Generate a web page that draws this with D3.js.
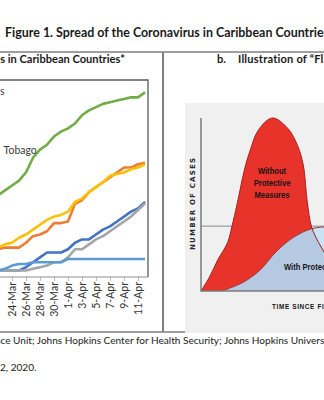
<!DOCTYPE html>
<html>
<head>
<meta charset="utf-8">
<script src="https://cdn.jsdelivr.net/npm/d3@7"></script>
<style>
  body { margin: 0; background: #fff; }
  svg { display: block; }
</style>
</head>
<body>
<div id="figure"></div>
<script>
var svgWidth = 324;
var svgHeight = 400;

// panel a: confirmed cases, 22-Mar .. 12-Apr
var dates = ["2020-03-22", "2020-03-23", "2020-03-24", "2020-03-25", "2020-03-26", "2020-03-27",
  "2020-03-28", "2020-03-29", "2020-03-30", "2020-03-31", "2020-04-01", "2020-04-02",
  "2020-04-03", "2020-04-04", "2020-04-05", "2020-04-06", "2020-04-07", "2020-04-08",
  "2020-04-09", "2020-04-10", "2020-04-11", "2020-04-12"];
var tickDates = ["2020-03-24", "2020-03-26", "2020-03-28", "2020-03-30", "2020-04-01",
  "2020-04-03", "2020-04-05", "2020-04-07", "2020-04-09", "2020-04-11"];
var countries = ["The Bahamas", "Barbados", "Guyana", "Jamaica", "Suriname", "Trinidad and Tobago"];
var colors = ["#4472C4", "#ED7D31", "#A5A5A5", "#FFC000", "#5B9BD5", "#70AD47"];
var bahamas = [4, 4, 4, 4, 6, 9, 12, 15, 15, 15, 17, 21, 23, 23, 26, 29, 31, 34, 37, 40, 42, 46];
var barbados = [17, 18, 18, 18, 21, 25, 26, 28, 33, 33, 34, 45, 47, 52, 55, 58, 61, 64, 67, 67, 69, 70];
var guyana = [4, 4, 4, 4, 4, 5, 6, 7, 9, 9, 12, 17, 17, 20, 23, 25, 28, 31, 34, 37, 41, 45];
var jamaica = [18, 20, 21, 24, 26, 29, 32, 35, 37, 38, 40, 46, 48, 52, 55, 58, 62, 63, 64, 66, 67, 69];
var suriname = [4, 5, 7, 8, 8, 9, 9, 9, 9, 9, 11, 11, 11, 11, 11, 11, 11, 11, 11, 11, 11, 11];
var trinidad = [50, 53, 56, 59, 64, 73, 78, 81, 86, 89, 91, 94, 99, 102, 104, 106, 107, 108, 109, 110, 110, 113];

// panel b: illustration curves, [time, cases] in 0-100 units
var withoutMeasures = [[0, 0], [6, 8], [12, 18], [19, 28], [22, 37], [26, 51], [31, 70], [35, 81],
  [41, 93], [51, 100], [62, 94], [69, 84], [73, 73], [76, 51], [79, 37], [84, 28], [91, 18], [96, 8], [102, 0]];
var withMeasures = [[15, 0], [30, 5], [42, 12], [54, 23], [66, 31], [79, 36], [92, 37], [106, 35],
  [121, 28], [140, 14], [160, 0]];
var capacity = 37.5;

var font = "Lato, 'Open Sans', sans-serif";
var narrow = "'Liberation Sans', Arial, sans-serif";

var svg = d3.select("#figure")
  .append("svg")
  .attr("width", svgWidth)
  .attr("height", svgHeight);

// measure a string so partially cropped texts land where they should
function textWidth(str, size, weight, family) {
  var t = svg.append("text")
    .attr("font-family", family || font)
    .attr("font-size", size)
    .attr("font-weight", weight || "normal")
    .text(str);
  var w = t.node().getComputedTextLength();
  t.remove();
  return w;
}

// condensed bold label (Arial Narrow look)
function narrowText(parent, x, y, str, size, anchor, spacing) {
  parent.append("g")
    .attr("transform", "translate(" + x + "," + y + ") scale(0.8,1)")
    .append("text")
    .attr("text-anchor", anchor || "start")
    .attr("font-family", narrow)
    .attr("font-weight", "bold")
    .attr("font-size", size)
    .attr("letter-spacing", spacing || 0)
    .attr("fill", "#151515")
    .text(str);
}

// ---------- frame rules ----------
svg.append("line").attr("x1", 0).attr("x2", svgWidth).attr("y1", 52).attr("y2", 52)
  .attr("stroke", "#7f7f7f").attr("stroke-width", 1.5);
svg.append("line").attr("x1", 0).attr("x2", svgWidth).attr("y1", 332).attr("y2", 332)
  .attr("stroke", "#7f7f7f").attr("stroke-width", 1.5);
svg.append("line").attr("x1", 163).attr("x2", 163).attr("y1", 52).attr("y2", 332)
  .attr("stroke", "#7f7f7f").attr("stroke-width", 2);

// ---------- titles ----------
var titleSize = 13 * 319 / textWidth("Figure 1. Spread of the Coronavirus in Caribbean Countrie", 13, "bold");
svg.append("text")
  .attr("x", 5).attr("y", 37)
  .attr("font-family", font).attr("font-weight", "bold").attr("font-size", titleSize)
  .attr("fill", "#1a1a1a")
  .text("Figure 1. Spread of the Coronavirus in Caribbean Countries");

var headSize = 10.5 * 125 / textWidth("s in Caribbean Countries*", 10.5, "bold");
svg.append("text")
  .attr("x", 125).attr("y", 63)
  .attr("text-anchor", "end")
  .attr("font-family", font).attr("font-weight", "bold").attr("font-size", headSize)
  .attr("fill", "#1a1a1a")
  .text("a.    Confirmed COVID-19 Cases in Caribbean Countries*");
svg.append("text")
  .attr("x", 217).attr("y", 63)
  .attr("font-family", font).attr("font-weight", "bold").attr("font-size", headSize)
  .attr("fill", "#1a1a1a")
  .text("b.");
svg.append("text")
  .attr("x", 238).attr("y", 63)
  .attr("font-family", font).attr("font-weight", "bold").attr("font-size", headSize)
  .attr("letter-spacing", 0.2)
  .attr("fill", "#1a1a1a")
  .text("Illustration of \u201CFlattening the Curve\u201D");

// ---------- panel a: line chart ----------
var parseDate = d3.utcParse("%Y-%m-%d");
var dateVals = dates.map(parseDate);
var tickVals = tickDates.map(parseDate);
var seriesValues = [bahamas, barbados, guyana, jamaica, suriname, trinidad];

var plotTop = 81, plotBottom = 277, plotRight = 148;

var xScale = d3.scaleUtc()
  .domain([parseDate("2020-03-24"), parseDate("2020-04-11")])
  .range([12, 138]);
var yScale = d3.scaleLinear()
  .domain([0, 120])
  .range([plotBottom, plotTop]);

var chartGroup = svg.append("g");

// plot area border (left part is cropped off)
chartGroup.append("path")
  .attr("d", "M-20," + (plotTop - 1) + "H" + plotRight + "V" + plotBottom)
  .attr("fill", "none").attr("stroke", "#595959").attr("stroke-width", 1.3);

var xAxis = chartGroup.append("g")
  .attr("transform", "translate(0," + plotBottom + ")")
  .call(d3.axisBottom(xScale)
    .tickValues(tickVals)
    .tickFormat(d3.utcFormat("%-d-%b"))
    .tickSize(4)
    .tickSizeOuter(0));
xAxis.select(".domain").remove();
xAxis.selectAll(".tick line").attr("stroke", "#bfbfbf");
xAxis.selectAll(".tick text")
  .attr("transform", "rotate(-90)")
  .attr("text-anchor", "end")
  .attr("x", -5)
  .attr("y", 0)
  .attr("dy", "0.35em")
  .attr("font-family", font)
  .attr("font-size", 10.5)
  .attr("fill", "#333");
chartGroup.append("line")
  .attr("x1", -20).attr("x2", plotRight).attr("y1", plotBottom).attr("y2", plotBottom)
  .attr("stroke", "#8c8c8c").attr("stroke-width", 1);

var lineGen = d3.line()
  .x(function (d, i) { return xScale(dateVals[i]); })
  .y(function (d) { return yScale(d); });

chartGroup.selectAll(".series")
  .data(seriesValues)
  .enter()
  .append("path")
  .attr("class", "series")
  .attr("d", function (d) { return lineGen(d); })
  .attr("fill", "none")
  .attr("stroke", function (d, i) { return colors[i]; })
  .attr("stroke-width", 2.6)
  .attr("stroke-linejoin", "round");

// legend, mostly cropped off to the left
var legendSize = 10.5;
var legend = chartGroup.selectAll(".legend")
  .data(countries)
  .enter()
  .append("g")
  .attr("class", "legend")
  .attr("transform", function (d, i) { return "translate(0," + (95 + i * 11.7) + ")"; });
legend.append("line")
  .attr("x1", -22).attr("x2", -6).attr("y1", -3).attr("y2", -3)
  .attr("stroke", function (d, i) { return colors[i]; })
  .attr("stroke-width", 2.6);
var legendText = legend.append("text")
  .attr("font-family", font)
  .attr("font-size", legendSize)
  .attr("fill", "#404040")
  .text(function (d) { return d; });

// place it so "Tobago" starts at ~3.5px and only the "s" of the first entry shows
var firstNode = legendText.nodes()[0];
var lastNode = legendText.nodes()[countries.length - 1];
var tobagoStart = lastNode.getStartPositionOfChar(countries[5].indexOf("Tobago")).x;
var bahamasEnd = firstNode.getEndPositionOfChar(countries[0].length - 1).x;
var wordGap = Math.max(-1, Math.min(6, -1 - (tobagoStart - bahamasEnd)));
var legendX = 3.5 - tobagoStart - 2 * wordGap;
legendText.attr("word-spacing", wordGap);
legend.attr("transform", function (d, i) { return "translate(" + legendX + "," + (95 + i * 11.7) + ")"; });

// ---------- panel b: flatten the curve ----------
var ix = d3.scaleLinear().domain([0, 100]).range([201, 341]);
var iy = d3.scaleLinear().domain([0, 100]).range([291, 118]);

var illus = svg.append("g");
illus.append("rect")
  .attr("x", 185).attr("y", 103)
  .attr("width", 160).attr("height", 230)
  .attr("fill", "#f0f0f0");

illus.append("line")
  .attr("x1", ix(0)).attr("x2", 340).attr("y1", iy(capacity)).attr("y2", iy(capacity))
  .attr("stroke", "#8a8a8a").attr("stroke-width", 1);

var smooth = d3.curveCatmullRom.alpha(0.5);
var areaGen = d3.area()
  .x(function (d) { return ix(d[0]); })
  .y0(iy(0))
  .y1(function (d) { return iy(d[1]); })
  .curve(smooth);
var curveGen = d3.line()
  .x(function (d) { return ix(d[0]); })
  .y(function (d) { return iy(d[1]); })
  .curve(smooth);

svg.append("defs").append("clipPath").attr("id", "redClip")
  .append("path").attr("d", areaGen(withoutMeasures));

illus.append("path")
  .attr("d", areaGen(withMeasures))
  .attr("fill", "#c8e3f3");
illus.append("path")
  .attr("d", areaGen(withoutMeasures))
  .attr("fill", "#e8332b");
illus.append("path")
  .attr("d", areaGen(withMeasures))
  .attr("clip-path", "url(#redClip)")
  .attr("fill", "#b6c9e2");
illus.append("path")
  .attr("d", curveGen(withoutMeasures))
  .attr("fill", "none").attr("stroke", "#a3211c").attr("stroke-width", 1);
illus.append("path")
  .attr("d", curveGen(withMeasures))
  .attr("fill", "none").attr("stroke", "#8f3a3a").attr("stroke-width", 1);

illus.append("path")
  .attr("d", "M" + ix(0) + "," + iy(100) + "V" + iy(0) + "H340")
  .attr("fill", "none").attr("stroke", "#7a7a7a").attr("stroke-width", 1.5);

illus.append("text")
  .attr("transform", "translate(194.5,204) rotate(-90)")
  .attr("text-anchor", "middle")
  .attr("font-family", "'DejaVu Sans', sans-serif")
  .attr("font-weight", "bold")
  .attr("font-size", 7)
  .attr("textLength", 92)
  .attr("lengthAdjust", "spacing")
  .attr("fill", "#2b2b2b")
  .text("NUMBER OF CASES");

narrowText(illus, 272, 308.5, "TIME SINCE FIRST CASE", 8, "start", 0.8);

["Without", "Protective", "Measures"].forEach(function (d, i) {
  narrowText(illus, 272, 173.5 + i * 12.3, d, 9.5, "middle");
});
narrowText(illus, 284, 270, "With Protective Measures", 9.5, "start");

// ---------- source notes ----------
var noteSize = 10 * 324 / textWidth("ce Unit; Johns Hopkins Center for Health Security; Johns Hopkins Univers", 10);
var srcPrefix = "Sources: Caribbean Public Health Agency; Economist Intelligen";
svg.append("text")
  .attr("x", -textWidth(srcPrefix, noteSize) + 0.5)
  .attr("y", 344)
  .attr("font-family", font).attr("font-size", noteSize)
  .attr("fill", "#1a1a1a")
  .text("Sources: Caribbean Public Health Agency; Economist Intelligence Unit; Johns Hopkins Center for Health Security; Johns Hopkins University.");

var datePrefix = "* Data as of April 1";
svg.append("text")
  .attr("x", -textWidth(datePrefix, noteSize))
  .attr("y", 371)
  .attr("font-family", font).attr("font-size", noteSize)
  .attr("fill", "#1a1a1a")
  .text("* Data as of April 12, 2020.");
</script>
</body>
</html>
